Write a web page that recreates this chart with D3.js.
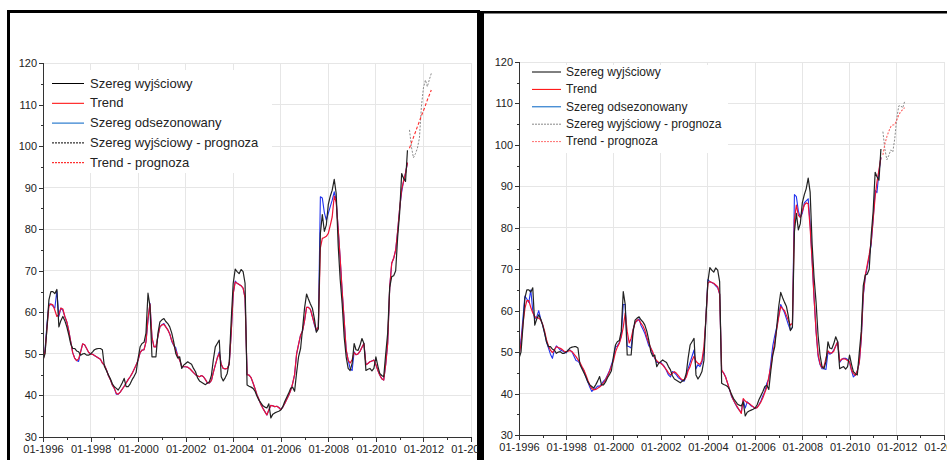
<!DOCTYPE html>
<html>
<head>
<meta charset="utf-8">
<title>Szereg wyjściowy - trend - prognoza</title>
<script src="https://cdn.jsdelivr.net/npm/d3@7"></script>
<style>
  html, body { margin: 0; background: #fff; }
  svg { display: block; font-family: "Liberation Sans", Arial, sans-serif; }
  .axis path, .axis line { stroke: #333; shape-rendering: crispEdges; }
  .axis text { fill: #222; font-size: 11px; font-family: "Liberation Sans", Arial, sans-serif; }
  .grid line { stroke: #e6e6e6; shape-rendering: crispEdges; }
  .legend text { fill: #222; }
</style>
</head>
<body>
<svg id="chart" width="947" height="460"></svg>
<script>
// monthly series start at 01-1996, forecasts start at 06-2011
var startMonth = new Date(1996, 0, 1);
var forecastStart = 185;

// Szereg wyjściowy (same in both panels), 01-1996 .. 05-2011
var original = [
  48.5, 50, 56, 63, 65, 65, 64.5, 65.5, 56.5, 58, 59, 58,
  56.5, 54.5, 52.5, 51.3, 51.3, 50.7, 50.5, 49.7, 50, 50.1, 49.7, 49.7,
  50, 50.5, 51, 51.2, 51.3, 51.3, 51, 47, 46, 45, 44, 42.8,
  42.1, 41.7, 41.3, 42.1, 43, 44.1, 42.1, 42.1, 42.8, 43.8, 44.6, 45.5,
  48.9, 51.7, 52.5, 52.8, 55, 64.6, 61.5, 49.3, 49.3, 49.3, 55, 57.7,
  58.2, 58.5, 57.8, 57.3, 56.5, 55, 52.9, 50.1, 49, 49.3, 46.5, 47.3,
  47.7, 48.1, 47.8, 47.5, 46.5, 45.7, 44.3, 43.5, 43.2, 42.9, 42.6, 43,
  43.3, 44.9, 48.5, 51.7, 52.5, 53.3, 44.5, 43.5, 44.3, 45.3, 48, 58,
  67, 70.4, 69.8, 69.3, 70.3, 69.8, 67, 42.5, 42.2, 42, 41.7, 41,
  39.8, 38.8, 38.2, 37.5, 37.2, 37, 38, 34.6, 35.5, 35.8, 36, 36.2,
  36.5, 37.3, 38.5, 39.5, 40.5, 41.7, 42, 41, 45.5, 49.3, 51.3, 56,
  61, 64.4, 63.2, 62, 61, 58.5, 55.2, 56, 79, 83.5, 79.5, 81,
  86, 88, 89.4, 92, 88.6, 76, 68, 62, 54, 49.3, 46.5, 46,
  47.7, 52.5, 51, 50.8, 52, 53.7, 52.5, 46, 46.3, 46.5, 45.9, 46.5,
  49.3, 47, 45.3, 44.8, 44.5, 50, 55, 66, 68.6, 68.8, 70, 78,
  84, 93.4, 92.3, 91.5, 99
];

// left panel: trend and seasonally adjusted series
var trendA = [
  48.5, 50.5, 56, 61.5, 62, 61.8, 60.5, 59, 59.5, 61, 60.8, 59,
  57.7, 55.5, 53, 50.3, 49, 48.4, 48.8, 50.5, 52.4, 52.2, 51.3, 50.4,
  50, 49.9, 49.6, 49.3, 49, 48.7, 47.8, 47.3, 46.2, 44.8, 43.8, 42.5,
  41.7, 40.5, 40.3, 40.8, 41.5, 42.2, 43, 43.8, 44.5, 45.3, 46.3, 47.3,
  48.5, 50.3, 50.9, 51, 52.9, 58.5, 62, 54, 51.7, 51.7, 54.3, 56.5,
  57, 57.1, 56.5, 55.8, 54.8, 53.2, 52.2, 50.8, 49.5, 48.5, 47, 46.9,
  46.9, 46.8, 46.5, 46, 45.5, 45, 44.7, 44.5, 44.8, 44.5, 43.8, 43,
  43, 43.6, 45.5, 47.3, 49, 50.1, 47.5, 46.5, 46.4, 46.5, 47.5, 55,
  64.5, 67.3, 67, 66.7, 66.4, 65.8, 63.5, 45, 44.9, 44.3, 43, 41.6,
  40.1, 39, 37.8, 36.9, 36.1, 35.3, 36.5, 37.6, 37.5, 37.3, 37.4, 37.1,
  36.6, 37.2, 38, 39, 40, 41.2, 42.8, 45, 50, 52.3, 54.5, 55.5,
  58, 61.2, 61.2, 60.7, 59, 57.3, 55.7, 56.5, 75.5, 77.8, 78, 78.3,
  79, 81, 83, 88, 86.5, 80, 73, 65, 58, 51, 48.5, 47.8,
  48.6, 50.3, 49.8, 50, 50.6, 51.6, 52.5, 47.4, 47.7, 48.1, 48.3, 48.5,
  47.4, 46, 44.9, 44, 43.7, 47.5, 52.5, 66, 71.8, 73, 75, 79.5,
  85, 89.5, 91.5, 93.5, 96
];
var adjustedA = [
  48.5, 51, 57, 62, 62, 61.5, 61, 65.2, 59, 61, 60.5, 59,
  57.7, 55.5, 53, 50.3, 49, 48.4, 48.2, 50.5, 52.4, 52.2, 51.3, 50.4,
  50, 49.9, 49.6, 49.3, 49, 48.7, 47.8, 47.3, 46.2, 44.8, 43.8, 42.5,
  41.7, 40.3, 40.3, 40.8, 41.5, 42.2, 43, 43.8, 44.5, 45.3, 46.3, 47.3,
  48.5, 50.3, 50.9, 51, 52.9, 58, 62.2, 54, 51.7, 51.7, 54.3, 56.5,
  57, 57.3, 56.5, 55.8, 54.8, 53, 52, 51.5, 49.5, 48.5, 47, 46.9,
  46.9, 46.8, 46.5, 46, 45.5, 45, 44.7, 44.5, 44.8, 44.5, 43.8, 43,
  43, 43.6, 45.5, 47.3, 49, 50.5, 47.5, 46.5, 46.4, 46.5, 47.5, 55,
  64.5, 67.5, 67, 66.7, 66.4, 65.8, 63.5, 45, 44.9, 44.3, 43, 41.6,
  40.1, 39, 37.8, 36.9, 36.1, 35.3, 36.5, 37.6, 37.5, 37.3, 37.4, 37.1,
  36.6, 37.2, 38, 39, 40, 41.2, 42.8, 45, 50, 52.3, 54.5, 55.5,
  58, 61.2, 61.2, 60.7, 59, 57, 55.5, 56.5, 87.8, 87.5, 84, 82.2,
  83.8, 85.5, 87, 89, 87, 80, 73, 65, 58, 51, 48.5, 46.5,
  46, 50.5, 49.8, 50, 50.6, 51.6, 52.5, 47.4, 47.7, 48.1, 48.3, 48.5,
  47.4, 46, 44.9, 44, 43.7, 47.5, 52.5, 66, 71.8, 73, 75, 79.5,
  85, 89, 91.5, 93.5, 96
];
var originalForecastA = [103.9, 99.8, 97.2, 98.2, 99.5, 102, 109.5, 114, 115.9, 114.3, 116, 117.5];
var trendForecastA = [99.5, 100.8, 102.1, 103.4, 104.7, 106, 107.3, 108.5, 109.8, 111.1, 112.3, 113.5];

// right panel: trend and seasonally adjusted series
var trendB = [
  49, 52, 56.5, 60.5, 62.4, 62.4, 60.8, 59.5, 58.6, 58.3, 58.2, 57.8,
  56.7, 55, 53, 51.5, 50.5, 49.9, 50.5, 51.3, 51.1, 50.9, 50.6, 50.2,
  50.1, 50.2, 50.4, 50.1, 49.5, 48.9, 48.2, 47.5, 46.5, 45.7, 44.5, 43.2,
  42, 41.2, 40.9, 41, 41.3, 41.6, 42, 42.6, 43.3, 44.2, 45.3, 46.6,
  47.9, 50, 51.2, 52.1, 53.6, 56, 59.4, 55, 52.2, 53.3, 55.5, 57,
  57.8, 57.7, 57, 56.3, 55.3, 53.5, 52.2, 51, 50, 48.6, 47.9, 47.5,
  47.3, 46.9, 46.3, 45.7, 45, 44.5, 44.9, 45.3, 44.9, 44.3, 43.7, 43.3,
  43.3, 44, 45.5, 46.5, 48, 49, 47.8, 47.3, 47, 48, 51.3, 58,
  66.6, 67, 66.8, 66.6, 66.2, 65.8, 64, 45.7, 44.9, 44, 42.5, 41,
  39.5, 38.4, 37.6, 36.8, 36, 35.2, 38.8, 38.2, 37.8, 37.6, 37.2, 36.8,
  36.5, 36.6, 37.2, 38, 39, 40.3, 41.5, 44, 46.5, 49.5, 52.5, 55.5,
  58.5, 61, 60.5, 60, 58.8, 57.6, 56.5, 57, 82, 85.5, 83, 82.5,
  84, 85.5, 86, 85.8, 80, 72, 63, 55, 49.5, 47.2, 46.2, 46.5,
  48.5, 50.3, 49.8, 49.8, 50.2, 51.5, 52.5, 47.8, 48.3, 48.4, 48.3, 48,
  47.7, 45.6, 44.8, 44.4, 45.5, 47.5, 53.5, 64, 68.5, 71, 73.5, 76.5,
  82, 87.5, 91, 94, 97
];
var adjustedB = [
  49, 53, 58, 63.5, 62.8, 62, 65, 60, 58, 58.5, 60, 58,
  56.5, 54.5, 52.5, 51, 49.5, 48.5, 50.5, 51.5, 51, 50.5, 50.3, 50,
  49.8, 50.5, 50.5, 50, 49, 48, 47.8, 47.2, 46.3, 45.5, 44, 42.8,
  41.5, 40.5, 41, 41.3, 41.8, 41.8, 42.3, 43, 43.5, 44.5, 45.5, 47,
  48.5, 51.3, 51.5, 52.3, 54, 61.5, 61.5, 51.5, 51.3, 51, 55.5, 57.2,
  57.5, 58, 56.5, 55.5, 54.5, 53, 51.5, 51, 49.5, 48.5, 47.5, 47.5,
  47.5, 47, 46.5, 45.5, 44.5, 44, 45.3, 45, 44.5, 43.8, 43.5, 43.1,
  43, 44.3, 46, 47.5, 49, 50.5, 46, 47, 46.5, 47.5, 50, 58,
  67.5, 67, 66.8, 66.5, 66, 65.5, 64, 45.5, 45, 44, 42.5, 41,
  39.3, 38.4, 37.5, 36.6, 36, 35.5, 38.5, 36.5, 38, 37.5, 37, 36.8,
  36.4, 36.7, 37.3, 38.2, 39.5, 40.5, 42.5, 43.5, 47.5, 51.5, 54, 56,
  58.8, 61.5, 60.5, 59.5, 58, 56.5, 55.3, 56, 88, 87.5, 84, 82.5,
  83.5, 86, 86.5, 87, 81, 72, 63, 55, 49, 47, 46, 46,
  45.8, 50, 49.5, 49.8, 50.5, 51.5, 52.5, 47.5, 48.2, 48.5, 48.5, 48.2,
  47.5, 45.5, 44, 44.5, 45.5, 47.5, 53, 63.5, 68, 70.5, 73, 76,
  82, 89, 88.5, 93.5, 97
];
var originalForecastB = [103.2, 99, 96.4, 97.5, 98.8, 98.3, 101.5, 106.4, 109.4, 109.5, 108.9, 110.4];
var trendForecastB = [97.6, 100.2, 102, 103.3, 104.4, 104.8, 104.9, 106, 107.2, 108, 108.5, 109];

var legendLabels = [
  "Szereg wyjściowy",
  "Trend",
  "Szereg odsezonowany",
  "Szereg wyjściowy - prognoza",
  "Trend - prognoza"
];
var yTicks = [30, 40, 50, 60, 70, 80, 90, 100, 110, 120];
var yMinorTicks = [35, 45, 55, 65, 75, 85, 95, 105, 115];
var xTickYears = [1996, 1998, 2000, 2002, 2004, 2006, 2008, 2010, 2012, 2014];
var xMinorYears = [1997, 1999, 2001, 2003, 2005, 2007, 2009, 2011, 2013];

var svg = d3.select("#chart");
var defs = svg.append("defs");

function monthDate(i) { return d3.timeMonth.offset(startMonth, i); }

function drawPanel(p) {
  defs.append("clipPath").attr("id", p.id + "-panel")
    .append("rect").attr("x", p.clip[0]).attr("y", 0)
    .attr("width", p.clip[1] - p.clip[0]).attr("height", 460);
  defs.append("clipPath").attr("id", p.id + "-plot")
    .append("rect").attr("x", p.x0).attr("y", p.y0 - 2)
    .attr("width", p.x1 - p.x0).attr("height", p.y1 - p.y0 + 2);

  var g = svg.append("g").attr("clip-path", "url(#" + p.id + "-panel)");

  var x = d3.scaleTime()
    .domain([new Date(1996, 0, 1), new Date(2014, 0, 1)])
    .range([p.x0, p.x1]);
  var y = d3.scaleLinear().domain([30, 120]).range([p.y1, p.y0]);

  // grid
  var grid = g.append("g").attr("class", "grid");
  grid.selectAll(".gy").data(yTicks.slice(1)).enter().append("line")
    .attr("x1", p.x0).attr("x2", p.x1)
    .attr("y1", function(d) { return y(d); }).attr("y2", function(d) { return y(d); });
  grid.selectAll(".gx").data(xTickYears.slice(1)).enter().append("line")
    .attr("x1", function(d) { return x(new Date(d, 0, 1)); })
    .attr("x2", function(d) { return x(new Date(d, 0, 1)); })
    .attr("y1", p.y0).attr("y2", p.y1);

  // lines
  var line = d3.line()
    .x(function(d) { return x(d.date); })
    .y(function(d) { return y(d.value); });
  function series(arr, offset) {
    return arr.map(function(v, i) { return { date: monthDate(offset + i), value: v }; });
  }
  var lines = g.append("g").attr("clip-path", "url(#" + p.id + "-plot)")
    .attr("fill", "none").attr("stroke-linejoin", "round");

  lines.append("path").attr("d", line(series(p.adjusted, 0)))
    .attr("stroke", "#2233ee").attr("stroke-width", 1.1);
  lines.append("path").attr("d", line(series(p.trend, 0)))
    .attr("stroke", "#ee1133").attr("stroke-width", 1.2);
  lines.append("path").attr("d", line(series(original, 0)))
    .attr("stroke", "#222").attr("stroke-width", 1.2);
  lines.append("path").attr("d", line(series(p.originalForecast, forecastStart)))
    .attr("stroke", "#8a8a8a").attr("stroke-width", 1).attr("stroke-dasharray", "2,1.5");
  lines.append("path").attr("d", line(series(p.trendForecast, forecastStart)))
    .attr("stroke", p.trendFcColor).attr("stroke-width", 1.1).attr("stroke-dasharray", p.trendFcDash);

  // axes
  var yAxis = g.append("g").attr("class", "axis")
    .attr("transform", "translate(" + p.x0 + ",0)")
    .call(d3.axisLeft(y).tickValues(yTicks).tickSize(4).tickPadding(2));
  g.append("g").attr("class", "axis")
    .attr("transform", "translate(" + p.x0 + ",0)")
    .call(d3.axisLeft(y).tickValues(yMinorTicks).tickSize(2).tickFormat(""))
    .select(".domain").remove();

  g.append("g").attr("class", "axis")
    .attr("transform", "translate(0," + p.y1 + ")")
    .call(d3.axisBottom(x)
      .tickValues(xTickYears.map(function(d) { return new Date(d, 0, 1); }))
      .tickFormat(d3.timeFormat("%m-%Y"))
      .tickSize(5).tickPadding(3));
  g.append("g").attr("class", "axis")
    .attr("transform", "translate(0," + p.y1 + ")")
    .call(d3.axisBottom(x)
      .tickValues(xMinorYears.map(function(d) { return new Date(d, 0, 1); }))
      .tickSize(3).tickFormat(""))
    .select(".domain").remove();
  g.selectAll(".axis .domain").attr("stroke", "#333");

  // legend
  var lg = g.append("g").attr("class", "legend");
  lg.append("rect")
    .attr("x", p.legend.box[0]).attr("y", p.legend.box[1])
    .attr("width", p.legend.box[2]).attr("height", p.legend.box[3])
    .attr("fill", "#fff");
  var styles = [
    { color: "#000", dash: null },
    { color: "#ff0000", dash: null },
    { color: "#0062c4", dash: null },
    { color: p.legend.fcColor, dash: "2,1" },
    { color: p.legend.trendFcColor, dash: "2,1" }
  ];
  legendLabels.forEach(function(label, i) {
    var ly = p.legend.rows[0] + i * p.legend.step;
    lg.append("line")
      .attr("x1", p.legend.sample[0]).attr("x2", p.legend.sample[1])
      .attr("y1", ly + 0.5).attr("y2", ly + 0.5)
      .attr("stroke", styles[i].color).attr("stroke-width", 1)
      .attr("stroke-dasharray", styles[i].dash);
    lg.append("text")
      .attr("x", p.legend.textX).attr("y", ly)
      .attr("dy", "0.35em")
      .style("font-size", p.legend.fontSize + "px")
      .text(label);
  });
}

// frames
svg.append("rect").attr("x", 8.5).attr("y", 11.5).attr("width", 470).attr("height", 470)
  .attr("fill", "none").attr("stroke", "#000").attr("stroke-width", 3);

drawPanel({
  id: "left", clip: [10, 478],
  x0: 43, x1: 471, y0: 63, y1: 437,
  trend: trendA, adjusted: adjustedA,
  originalForecast: originalForecastA, trendForecast: trendForecastA,
  trendFcColor: "#ff2a2a", trendFcDash: "3,2",
  legend: {
    box: [44, 70, 228, 103], rows: [83], step: 19.8,
    sample: [52, 84], textX: 90, fontSize: 13,
    fcColor: "#000", trendFcColor: "#ff0000"
  }
});

drawPanel({
  id: "right", clip: [484, 947],
  x0: 519, x1: 944, y0: 62, y1: 435,
  trend: trendB, adjusted: adjustedB,
  originalForecast: originalForecastB, trendForecast: trendForecastB,
  trendFcColor: "#ff6060", trendFcDash: "2,1.5",
  legend: {
    box: [520, 65, 208, 88], rows: [71.5], step: 17.4,
    sample: [532, 561], textX: 566, fontSize: 12,
    fcColor: "#888", trendFcColor: "#ff7070"
  }
});

svg.append("rect").attr("x", 478).attr("y", 11).attr("width", 6).attr("height", 449).attr("fill", "#000");
svg.append("rect").attr("x", 478).attr("y", 11).attr("width", 469).attr("height", 2.5).attr("fill", "#000");
</script>
</body>
</html>
